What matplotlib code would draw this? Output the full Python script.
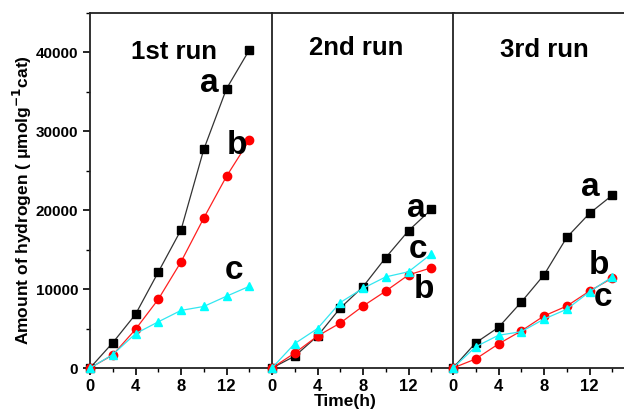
import matplotlib
matplotlib.use("Agg")
import matplotlib.pyplot as plt
from matplotlib.ticker import MultipleLocator

plt.rcParams['font.family'] = ['Liberation Sans', 'DejaVu Sans']
plt.rcParams['font.weight'] = 'bold'

time_h = [0, 2, 4, 6, 8, 10, 12, 14]
runs = ["1st run", "2nd run", "3rd run"]

run1_a = [0, 3200, 6800, 12150, 17500, 27700, 35400, 40300]
run1_b = [0, 1650, 4900, 8700, 13450, 19000, 24300, 28850]
run1_c = [0, 1700, 4350, 5850, 7300, 7800, 9100, 10350]

run2_a = [0, 1500, 4050, 7600, 10300, 14000, 17400, 20100]
run2_b = [0, 1900, 4050, 5700, 7850, 9750, 11800, 12700]
run2_c = [0, 3100, 5000, 8300, 10100, 11550, 12200, 14450]

run3_a = [0, 3200, 5150, 8350, 11800, 16550, 19600, 21900]
run3_b = [0, 1150, 3050, 4700, 6600, 7850, 9750, 11400]
run3_c = [0, 2700, 4150, 4600, 6200, 7450, 9650, 11550]

series = [(run1_a, run1_b, run1_c), (run2_a, run2_b, run2_c), (run3_a, run3_b, run3_c)]

# label positions (x, y) for a, b, c
label_pos = [
    [(10.5, 36000), (12.9, 28200), (12.7, 12400)],
    [(12.7, 20250), (13.4, 9900), (12.8, 15000)],
    [(12.1, 22900), (12.8, 13000), (13.2, 9000)],
]
title_pos = [(7.4, 40000), (7.4, 40600), (8.0, 40250)]

fig = plt.figure(figsize=(6.24, 4.16), dpi=100)
W, H = 624.0, 416.0
lefts = [90, 272, 453]
pw = 182
bottom = 368
top = 13

styles = [
    dict(color='#333333', marker='s', mfc='black', mec='black', ms=5.3),
    dict(color='#ff2020', marker='o', mfc='red', mec='red', ms=6.0),
    dict(color='#33e6f0', marker='^', mfc='cyan', mec='cyan', ms=6.3),
]

for i in range(3):
    ax = fig.add_axes([lefts[i] / W, (H - bottom) / H, pw / W, (bottom - top) / H])
    for s, st in zip(series[i], styles):
        ax.plot(time_h, s, lw=0.9, clip_on=False, zorder=3, **st)
    ax.set_xlim(0, 16)
    ax.set_ylim(0, 45000)
    ax.xaxis.set_major_locator(MultipleLocator(4))
    ax.xaxis.set_minor_locator(MultipleLocator(2))
    ax.set_xticks([0, 4, 8, 12])
    ax.tick_params(axis='x', which='major', direction='out', length=5, width=1.2, labelsize=12, pad=3)
    ax.tick_params(axis='x', which='minor', direction='out', length=3, width=1.0)
    for lab in ax.get_xticklabels():
        lab.set_fontweight('bold')
    ax.spines['right'].set_visible(False)
    for sp in ['left', 'top', 'bottom']:
        ax.spines[sp].set_linewidth(1.3)
        ax.spines[sp].set_color('#222222')
    if i == 0:
        ax.yaxis.set_major_locator(MultipleLocator(10000))
        ax.yaxis.set_minor_locator(MultipleLocator(5000))
        ax.set_yticks([0, 10000, 20000, 30000, 40000])
        ax.tick_params(axis='y', which='major', direction='out', length=5, width=1.2, labelsize=11)
        ax.tick_params(axis='y', which='minor', direction='out', length=3, width=1.0)
        for lab in ax.get_yticklabels():
            lab.set_fontweight('bold')
        ax.set_ylabel("Amount of hydrogen ( \u03bcmolg$^{\\mathbf{-1}}$cat)", fontsize=12.5, fontweight='bold')
        ax.yaxis.set_label_coords(-0.31, 0.473)
    else:
        ax.set_yticks([])
        ax.tick_params(axis='y', which='both', left=False, labelleft=False)
    if i == 1:
        ax.set_xlabel("Time(h)", fontsize=12.5, fontweight='bold')
        ax.xaxis.set_label_coords(6.4 / 16, -0.072)
    tx, ty = title_pos[i]
    ax.text(tx, ty, runs[i], fontsize=18.5, fontweight='bold', ha='center', va='center')
    for (lx, ly), letter in zip(label_pos[i], ['a', 'b', 'c']):
        ax.text(lx, ly, letter, fontsize=24, fontweight='bold', ha='center', va='center')

fig.savefig("out.png", dpi=100)
